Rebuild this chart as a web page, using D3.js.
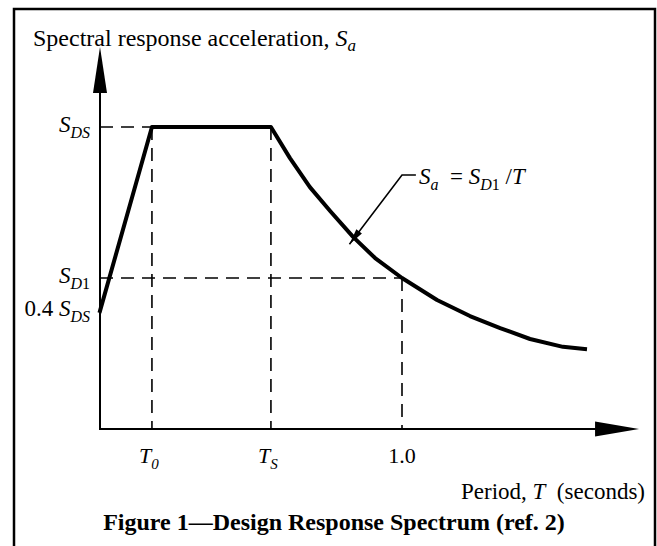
<!DOCTYPE html>
<html>
<head>
<meta charset="utf-8">
<script src="https://cdn.jsdelivr.net/npm/d3@7"></script>
<style>
  body { margin: 0; background: #fff; }
  text { font-family: "Liberation Serif", "Times New Roman", serif; fill: #000; }
</style>
</head>
<body>
<div class="chart"></div>
<script>
// spectrum: period T (s) and Sa (as a fraction of S_DS)
const periods = [0, 0.172, 0.566, 0.629, 0.695, 0.762, 0.838, 0.911, 1.0, 1.116, 1.225, 1.325, 1.424, 1.533, 1.606];
const accel   = [0.391, 1.0, 1.0, 0.897, 0.801, 0.722, 0.636, 0.566, 0.500, 0.427, 0.374, 0.334, 0.298, 0.272, 0.265];

const T0 = 0.172, TS = 0.566, T1 = 1.0;
const SDS = 1.0, SD1 = 0.5, S04 = 0.391;

// tick labels
const xTickValues = [T0, TS, T1];
const xTickMain = ["T", "T", "1.0"];
const xTickSub = ["0", "S", ""];

const yTickValues = [SDS, SD1, S04];
const yTickPrefix = ["", "", "0.4 "];
const yTickSub = ["DS", "D1", "DS"];

const xMax = 1.785, yMax = 1.265;

const width = 657, height = 546;

const svg = d3.select(".chart")
  .append("svg")
  .attr("width", width)
  .attr("height", height);

const xScale = d3.scaleLinear().domain([0, 1]).range([100, 402]);
const yScale = d3.scaleLinear().domain([0, 1]).range([429, 127]);

// frame
svg.append("rect")
  .attr("x", 14).attr("y", 9)
  .attr("width", 641).attr("height", 560)
  .attr("fill", "none")
  .attr("stroke", "#000")
  .attr("stroke-width", 2.5);

// axes
const x0 = xScale(0), y0 = yScale(0);
svg.append("line")
  .attr("x1", x0).attr("y1", y0)
  .attr("x2", x0).attr("y2", yScale(yMax) + 10)
  .attr("stroke", "#000").attr("stroke-width", 2);
svg.append("line")
  .attr("x1", x0 - 1).attr("y1", y0)
  .attr("x2", xScale(xMax) - 10).attr("y2", y0)
  .attr("stroke", "#000").attr("stroke-width", 2);

// arrow heads
const yt = yScale(yMax);
svg.append("path")
  .attr("d", `M${x0},${yt} L${x0 + 7},${yt + 46} L${x0 - 7},${yt + 46} Z`)
  .attr("fill", "#000");
const xt = xScale(xMax);
svg.append("path")
  .attr("d", `M${xt},${y0} L${xt - 44},${y0 + 7.5} L${xt - 44},${y0 - 7.5} Z`)
  .attr("fill", "#000");

// dashed guides
const guides = [
  [[0, SDS], [T0, SDS]],
  [[T0, SDS], [T0, 0]],
  [[TS, SDS], [TS, 0]],
  [[0, SD1], [T1, SD1]],
  [[T1, SD1], [T1, 0]]
];
svg.selectAll(".guide")
  .data(guides)
  .join("line")
  .attr("class", "guide")
  .attr("x1", d => xScale(d[0][0])).attr("y1", d => yScale(d[0][1]))
  .attr("x2", d => xScale(d[1][0])).attr("y2", d => yScale(d[1][1]))
  .attr("stroke", "#000")
  .attr("stroke-width", 1.6)
  .attr("stroke-dasharray", "13,8");

// spectrum curve
const line = d3.line()
  .x((d, i) => xScale(periods[i]))
  .y(d => yScale(d));

svg.append("path")
  .datum(accel)
  .attr("d", line)
  .attr("fill", "none")
  .attr("stroke", "#000")
  .attr("stroke-width", 4)
  .attr("stroke-linejoin", "round")
  .attr("stroke-linecap", "square");

// leader for the formula
const leader = [[1.046, 0.841], [1.0, 0.841], [0.826, 0.612]];
svg.append("path")
  .attr("d", d3.line().x(d => xScale(d[0])).y(d => yScale(d[1]))(leader))
  .attr("fill", "none")
  .attr("stroke", "#000")
  .attr("stroke-width", 1.6);
{
  const a = leader[2], b = leader[1];
  const tx = xScale(a[0]), ty = yScale(a[1]);
  const ang = Math.atan2(yScale(b[1]) - ty, xScale(b[0]) - tx);
  const L = 16, W = 3.5;
  const bx = tx + L * Math.cos(ang), by = ty + L * Math.sin(ang);
  svg.append("path")
    .attr("d", `M${tx},${ty} L${bx - W * Math.sin(ang)},${by + W * Math.cos(ang)} L${bx + W * Math.sin(ang)},${by - W * Math.cos(ang)} Z`)
    .attr("fill", "#000");
}

// formula label
const f = svg.append("text")
  .attr("x", 419).attr("y", 184)
  .attr("font-size", 23);
f.append("tspan").attr("font-style", "italic").text("S");
f.append("tspan").attr("font-style", "italic").attr("font-size", 16).attr("dy", 6).text("a");
f.append("tspan").attr("dy", -6).text("\u00a0 = ");
f.append("tspan").attr("font-style", "italic").text("S");
f.append("tspan").attr("font-style", "italic").attr("font-size", 16).attr("dy", 6).text("D");
f.append("tspan").attr("font-size", 16).text("1");
f.append("tspan").attr("dy", -6).text(" /");
f.append("tspan").attr("font-style", "italic").text("T");

// y labels
yTickValues.forEach((v, i) => {
  const t = svg.append("text")
    .attr("x", x0 - 10).attr("y", yScale(v) + 5)
    .attr("text-anchor", "end")
    .attr("font-size", 23);
  if (yTickPrefix[i]) t.append("tspan").text(yTickPrefix[i]);
  t.append("tspan").attr("font-style", "italic").text("S");
  const sub = yTickSub[i];
  t.append("tspan").attr("font-style", "italic").attr("font-size", 16).attr("dy", 6).text(sub[0]);
  t.append("tspan").attr("font-size", 16).attr("font-style", sub[1] === "1" ? "normal" : "italic").text(sub[1]);
});

// x labels
xTickValues.forEach((v, i) => {
  const t = svg.append("text")
    .attr("x", xScale(v) - (xTickSub[i] ? 3 : 0)).attr("y", 463)
    .attr("text-anchor", "middle")
    .attr("font-size", 22);
  t.append("tspan").attr("font-style", xTickSub[i] ? "italic" : "normal").text(xTickMain[i]);
  if (xTickSub[i]) t.append("tspan").attr("font-style", "italic").attr("font-size", 15).attr("dy", 6).text(xTickSub[i]);
});

// axis titles
const yt2 = svg.append("text")
  .attr("x", 33).attr("y", 46)
  .attr("font-size", 24);
yt2.append("tspan").text("Spectral response acceleration, ");
yt2.append("tspan").attr("font-style", "italic").text("S");
yt2.append("tspan").attr("font-style", "italic").attr("font-size", 17).attr("dy", 5).text("a");

const xt2 = svg.append("text")
  .attr("x", 645).attr("y", 499)
  .attr("text-anchor", "end")
  .attr("font-size", 23);
xt2.append("tspan").text("Period, ");
xt2.append("tspan").attr("font-style", "italic").text("T");
xt2.append("tspan").text("\u00a0 (seconds)");

// caption
svg.append("text")
  .attr("x", 334).attr("y", 530)
  .attr("text-anchor", "middle")
  .attr("font-size", 24)
  .attr("font-weight", "bold")
  .text("Figure 1\u2014Design Response Spectrum (ref. 2)");
</script>
</body>
</html>
